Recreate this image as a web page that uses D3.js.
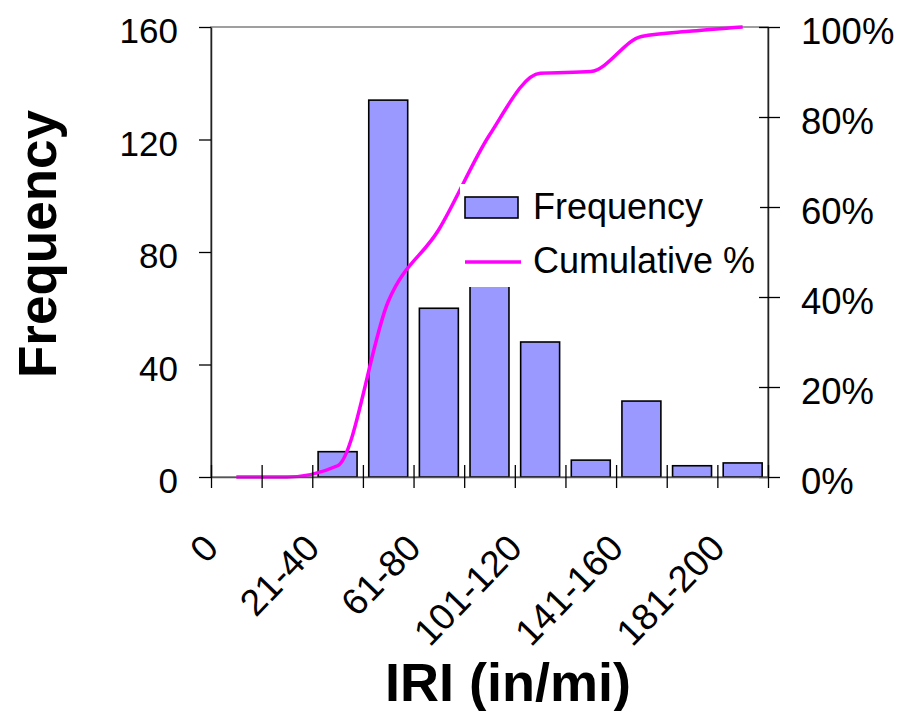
<!DOCTYPE html>
<html><head><meta charset="utf-8">
<script src="https://cdn.jsdelivr.net/npm/d3@7"></script>
<style>body{margin:0;background:#fff} svg{display:block} text{font-family:"Liberation Sans",Arial,sans-serif}</style>
</head><body><svg id="c" width="914" height="711"></svg>
<script>
const categories = ["0","1-20","21-40","41-60","61-80","81-100","101-120","121-140","141-160","161-180","181-200"];
const frequency = [0,0,9,134,60,75,48,6,27,4,5];
const cumulativePct = [0,0,2.5,39,55,76,89.7,90.1,97.9,99.1,100];
const freqTicks = [0,40,80,120,160];
const pctTicks = [0,20,40,60,80,100];
const shownLabels = ["0","21-40","61-80","101-120","141-160","181-200"];

const L=211,R=768,T=27,B=477;
const svg = d3.select("#c");
const pi = 0.3/1.3;
const x = d3.scaleBand().domain(categories).range([L,R]).paddingInner(pi).paddingOuter(pi/2);
const bw = x.bandwidth(), step = x.step();
const y = d3.scaleLinear().domain([0,160]).range([B,T]);
const yp = d3.scaleLinear().domain([0,100]).range([B,T]);
const xb = d3.scaleLinear().domain([0,categories.length]).range([L,R]);

// plot border
svg.append("rect").attr("x",L).attr("y",T).attr("width",R-L).attr("height",B-T)
  .attr("fill","none").attr("stroke","#808080").attr("stroke-width",1.5);

// bars
const data = categories.map((c,i)=>({c, f:frequency[i], p:cumulativePct[i]}));
svg.append("g").selectAll("rect").data(data.filter(d=>d.f>0)).join("rect")
  .attr("x",d=>x(d.c)).attr("y",d=>y(d.f)).attr("width",bw).attr("height",d=>B-y(d.f))
  .attr("fill","#9999FF").attr("stroke","#000").attr("stroke-width",1.6);

// cumulative line
const line = d3.line().x(d=>x(d.c)+bw/2).y(d=>yp(d.p)).curve(d3.curveMonotoneX);
svg.append("path").datum(data).attr("d",line).attr("fill","none")
  .attr("stroke","#FF00FF").attr("stroke-width",3.5);

// left axis
const gl = svg.append("g").attr("transform",`translate(${L},0)`)
  .call(d3.axisLeft(y).tickValues(freqTicks).tickSize(12).tickSizeOuter(0).tickPadding(21));
// right axis
const gr = svg.append("g").attr("transform",`translate(${R},0)`)
  .call(d3.axisRight(yp).tickValues(pctTicks).tickFormat(d=>d+"%").tickSize(12).tickSizeOuter(0).tickPadding(21));
gr.selectAll(".tick line").attr("x1",-9);
// bottom axis (boundary ticks)
const gb = svg.append("g").attr("transform",`translate(0,${B})`)
  .call(d3.axisBottom(xb).tickValues(d3.range(categories.length+1)).tickFormat("").tickSize(11).tickSizeOuter(0));
gb.selectAll(".tick line").attr("y1",-12);
gb.select(".domain").attr("stroke","#555");
[gl,gr,gb].forEach(g=>{
  g.selectAll(".tick line").attr("stroke","#000").attr("stroke-width",1.3);
  g.selectAll(".domain").attr("stroke-width",1.5);
  g.selectAll("text").attr("font-size",35).attr("fill","#000").attr("font-family",null).attr("dy","0.45em");
});
gr.selectAll("text").attr("font-size",36.5);
gl.select(".domain").attr("stroke","#222");
gr.select(".domain").attr("stroke","#222");

// category labels
svg.append("g").selectAll("text").data(shownLabels).join("text")
  .attr("transform",d=>`translate(${x(d)+bw/2-16},550) rotate(-46)`)
  .attr("text-anchor","end").attr("font-size",37).attr("fill","#000").text(d=>d);

// axis titles
svg.append("text").attr("x",508).attr("y",701).attr("text-anchor","middle")
  .attr("font-size",54).attr("font-weight","bold").text("IRI (in/mi)");
svg.append("text").attr("transform","translate(56,244) rotate(-90)").attr("text-anchor","middle")
  .attr("font-size",53).attr("font-weight","bold").text("Frequency");

// legend
const lg = svg.append("g");
lg.append("rect").attr("x",460).attr("y",184).attr("width",300).attr("height",103).attr("fill","#fff");
lg.append("rect").attr("x",465).attr("y",197).attr("width",53).attr("height",21)
  .attr("fill","#9999FF").attr("stroke","#000").attr("stroke-width",1.6);
lg.append("text").attr("x",533).attr("y",219).attr("font-size",36).text("Frequency");
lg.append("line").attr("x1",465).attr("x2",521).attr("y1",262).attr("y2",262)
  .attr("stroke","#FF00FF").attr("stroke-width",3.5);
lg.append("text").attr("x",533).attr("y",273).attr("font-size",36).text("Cumulative %");
</script></body></html>
